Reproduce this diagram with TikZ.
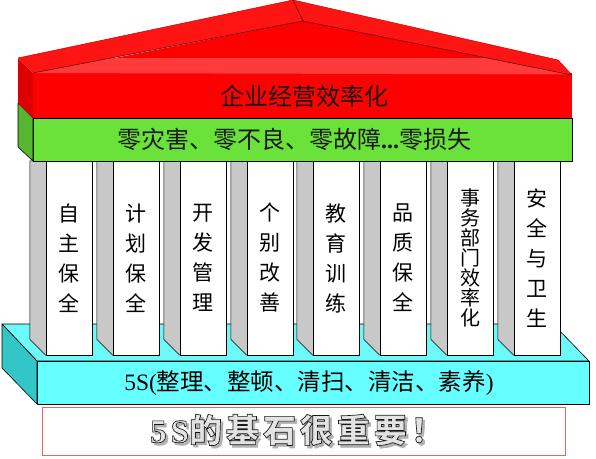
\documentclass[tikz,border=0pt]{standalone}
\usepackage{fontspec}
\setmainfont{Liberation Serif}
\newfontfamily\cjk{Noto Sans CJK SC}
\newfontfamily\mottocjk{Noto Sans CJK SC}[RawFeature={embolden=2}, LetterSpace=12]
\newfontfamily\mottolatin{Liberation Serif}[RawFeature={embolden=2}, LetterSpace=12]
\definecolor{roofred}{HTML}{FF0000}
\definecolor{roofslope}{HTML}{FF1414}
\definecolor{rooflight}{HTML}{FF3A3A}
\definecolor{roofside}{HTML}{DC0000}
\definecolor{beltgreen}{HTML}{6AE23A}
\definecolor{beltside}{HTML}{56B632}
\definecolor{basecyan}{HTML}{66FFFF}
\definecolor{basetop}{HTML}{6CF9F9}
\definecolor{baseside}{HTML}{33C6C6}
\definecolor{pillargray}{HTML}{C8C8C8}
\definecolor{boxline}{HTML}{E06A55}
\newcommand{\mottotext}{\mottolatin\bfseries 5S\mottocjk 的基石很重要！}

\begin{document}
\begin{tikzpicture}[x=1pt,y=-1pt,
		edge/.style={draw=black, line width=0.6pt, line join=round},
		pillar/.style={draw=black, fill=white, line width=0.5pt, minimum width=46pt, minimum height=194pt, inner sep=0pt, align=center, font=\cjk\fontsize{21}{30}\selectfont},
		side/.style={draw=black, fill=pillargray, line width=0.5pt, line join=round},
		ridge/.style={draw=black!75!red, line width=0.5pt}]
		\useasboundingbox (0,0) rectangle (596,458);

		% base
		\draw[edge, fill=basetop] (2,324) -- (553,324) -- (589,361) -- (37,361) -- cycle;
		\draw[edge, fill=baseside] (2,324) -- (37,361) -- (37,404) -- (2,368) -- cycle;
		\node	(base) at (313,382.5) [edge, fill=basecyan, minimum width=552pt, minimum height=43pt, inner sep=0pt] {};
		\node	(baselabel) at (309,383) [font=\fontsize{23.5}{24}\selectfont] {5S(\cjk 整理、整顿、清扫、清洁、素养\rmfamily)};

		% pillars
		\node	(p1) at (69,258) [pillar] {自\\主\\保\\全};
		\node	(p2) at (136,258) [pillar] {计\\划\\保\\全};
		\node	(p3) at (203,258) [pillar] {开\\发\\管\\理};
		\node	(p4) at (270,258) [pillar] {个\\别\\改\\善};
		\node	(p5) at (336,258) [pillar] {教\\育\\训\\练};
		\node	(p6) at (403,258) [pillar] {品\\质\\保\\全};
		\node	(p7) at (470,258) [pillar, font=\cjk\fontsize{20}{20}\selectfont] {事\\务\\部\\门\\效\\率\\化};
		\node	(p8) at (537,258) [pillar] {安\\全\\与\\卫\\生};

		\draw[side] (p1.south west) -- ++(-16,-16) |- (p1.north west);
		\draw[side] (p2.south west) -- ++(-16,-16) |- (p2.north west);
		\draw[side] (p3.south west) -- ++(-16,-16) |- (p3.north west);
		\draw[side] (p4.south west) -- ++(-16,-16) |- (p4.north west);
		\draw[side] (p5.south west) -- ++(-16,-16) |- (p5.north west);
		\draw[side] (p6.south west) -- ++(-16,-16) |- (p6.north west);
		\draw[side] (p7.south west) -- ++(-16,-16) |- (p7.north west);
		\draw[side] (p8.south west) -- ++(-16,-16) |- (p8.north west);

		% green belt and red block
		\node	(belt) at (302.5,139.5) [edge, fill=beltgreen, minimum width=539pt, minimum height=43pt, inner sep=0pt] {};
		\draw[edge, fill=beltside] (18,103) -- (33,118) -- (33,161) -- (18,147) -- cycle;
		\node	(block) at (302.5,95.5) [fill=roofred, minimum width=539pt, minimum height=45pt, inner sep=0pt] {};
		\fill[roofside] (18,58) -- (33,73) -- (33,118) -- (18,103) -- cycle;

		% roof
		\fill[roofslope] (18,58) -- (293,0) -- (303,21) -- (33,73) -- cycle;
		\fill[roofslope] (293,0) -- (558,60) -- (572,75) -- (303,21) -- cycle;
		\fill[roofred] (33,74) -- (303,21) -- (572,75) -- cycle;
		\fill[rooflight] (33,73) -- (110,58) -- (487,58) -- (572,74.5) -- cycle;
		\draw[ridge] (33,73) -- (303,21) -- (572,75);
		\draw[ridge] (293,0) -- (303,21);
		\draw[ridge, draw=red!80!black] (18,58) -- (293,0) -- (558,60) -- (572,75);

		\node	(blocklabel) at (304,96) [font=\cjk\fontsize{24}{24}\selectfont, text=black!90] {企业经营效率化};
		\node	(beltlabel) at (294,139.5) [font=\fontsize{24}{24}\selectfont, text=black!90] {\cjk 零灾害、零不良、零故障\rmfamily\bfseries ...\mdseries\cjk 零损失};

		% slogan
		\node	(slogan) at (303.5,431) [draw=boxline, fill=white, line width=0.7pt, minimum width=523pt, minimum height=48pt, inner sep=0pt] {};
		\node	(mottoshadow) at (299.5,432.5) [font=\fontsize{33}{33}\selectfont, text=gray!60] {\mottotext};
		\node	(motto) at (297,430) [font=\fontsize{33}{33}\selectfont, text=gray!22] {\special{pdf:code 0.1 G}\mottotext};
\end{tikzpicture}
\end{document}
